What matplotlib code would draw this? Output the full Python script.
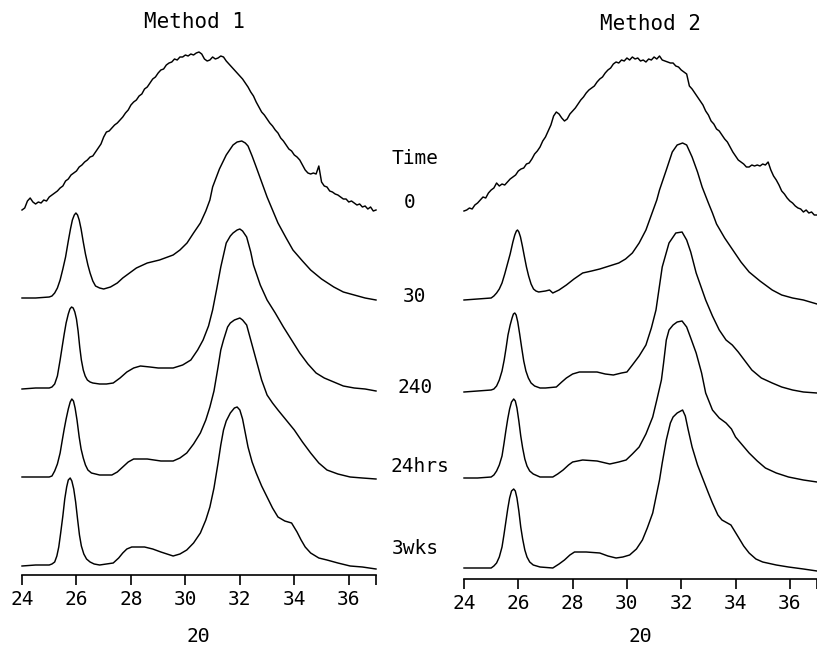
import numpy as np
import matplotlib
matplotlib.use("Agg")
import matplotlib.pyplot as plt

# ---------------- data (intensity above each trace's own baseline, arbitrary units) ----
two_theta_fine = np.round(np.arange(240, 371) / 10.0, 1)  # 24.0 ... 37.0 step 0.1

m1_t0 = [0, 2, 9, 12, 8, 6, 8, 7, 10, 9,
         13, 15, 17, 19, 22, 24, 29, 31, 35, 37,
         39, 43, 45, 48, 50, 53, 54, 58, 62, 66,
         73, 78, 79, 82, 85, 87, 90, 93, 97, 100,
         105, 108, 110, 114, 116, 121, 123, 127, 131, 133,
         137, 140, 141, 145, 147, 148, 151, 150, 153, 153,
         155, 154, 156, 155, 157, 158, 156, 151, 149, 150,
         153, 151, 152, 154, 153, 149, 146, 143, 140, 137,
         134, 131, 127, 123, 118, 114, 108, 103, 98, 95,
         91, 87, 84, 80, 77, 72, 69, 65, 61, 59,
         55, 53, 50, 45, 40, 37, 36, 37, 36, 44,
         28, 24, 23, 19, 18, 16, 15, 13, 11, 11,
         8, 9, 7, 5, 6, 3, 4, 1, 3, -1, 0]

m2_t0 = [-1, 0, 2, 1, 5, 7, 10, 13, 12, 17,
         20, 22, 27, 24, 26, 25, 28, 31, 33, 35,
         39, 41, 42, 46, 47, 51, 56, 59, 63, 69,
         73, 79, 85, 94, 98, 96, 92, 89, 91, 96,
         99, 102, 106, 110, 113, 117, 120, 122, 124, 128,
         131, 133, 137, 140, 142, 146, 148, 147, 150, 149,
         152, 150, 153, 151, 152, 149, 150, 148, 151, 150,
         153, 151, 154, 150, 149, 148, 147, 147, 144, 143,
         140, 138, 136, 124, 121, 117, 113, 109, 105, 99,
         95, 89, 86, 81, 79, 75, 71, 68, 63, 58,
         54, 50, 48, 46, 43, 43, 45, 44, 45, 44,
         46, 45, 48, 40, 34, 30, 25, 19, 16, 12,
         9, 7, 4, 2, 1, -2, 0, -3, -2, -5, -5]

m1_t30_x = [24.0, 24.5, 25.0, 25.1, 25.2, 25.3, 25.4, 25.5, 25.6, 25.7, 25.78, 25.85,
            25.92, 25.98, 26.04, 26.1, 26.17, 26.25, 26.33, 26.42, 26.5, 26.6, 26.7, 26.85,
            27.0, 27.25, 27.5, 27.7, 27.95, 28.2, 28.6, 29.05, 29.55, 29.8, 30.06, 30.3,
            30.55, 30.75, 30.9, 31.0, 31.25, 31.5, 31.65, 31.75, 31.9, 32.07, 32.2, 32.3,
            32.45, 32.6, 32.8, 33.0, 33.2, 33.4, 33.7, 33.95, 34.3, 34.6, 35.0, 35.45,
            35.8, 36.2, 36.6, 37.0]
m1_t30_y = [1, 1, 2, 3, 6, 11, 19, 30, 42, 58, 70, 79,
            84, 86, 84, 79, 70, 57, 45, 34, 26, 18, 13, 11,
            10, 12, 16, 21, 26, 31, 36, 39, 44, 49, 56, 66,
            76, 88, 99, 112, 130, 144, 150, 154, 157, 158, 156, 153,
            143, 132, 117, 102, 89, 76, 61, 49, 38, 29, 20, 12,
            7, 4, 1, -1]

m1_t240_x = [24.0, 24.5, 25.0, 25.1, 25.2, 25.3, 25.4, 25.48, 25.55, 25.62, 25.7, 25.76,
             25.82, 25.88, 25.94, 26.0, 26.06, 26.12, 26.18, 26.25, 26.32, 26.4, 26.5, 26.6,
             26.85, 27.1, 27.35, 27.6, 27.85, 28.1, 28.35, 28.7, 29.0, 29.55, 29.9, 30.2,
             30.45, 30.65, 30.85, 31.0, 31.15, 31.3, 31.5, 31.65, 31.75, 31.9, 32.0, 32.1,
             32.25, 32.4, 32.5, 32.75, 33.0, 33.3, 33.6, 33.9, 34.2, 34.5, 34.8, 35.1,
             35.45, 35.8, 36.2, 36.6, 37.0]
m1_t240_y = [0, 1, 1, 2, 5, 13, 29, 43, 55, 66, 75, 80,
             82, 81, 77, 70, 58, 42, 29, 19, 13, 9, 7, 6,
             5, 5, 6, 11, 17, 21, 23, 22, 21, 21, 24, 29,
             39, 49, 63, 79, 100, 122, 146, 153, 156, 159, 160, 158,
             152, 137, 124, 104, 89, 76, 62, 49, 36, 25, 16, 11,
             7, 3, 1, 0, -2]

m1_t24h_x = [24.0, 24.5, 25.0, 25.1, 25.2, 25.3, 25.4, 25.48, 25.55, 25.62, 25.7, 25.77,
             25.83, 25.89, 25.95, 26.02, 26.1, 26.17, 26.25, 26.33, 26.42, 26.55, 26.85, 27.3,
             27.5, 27.7, 27.9, 28.1, 28.6, 29.1, 29.55, 29.8, 30.05, 30.3, 30.55, 30.75,
             30.9, 31.05, 31.2, 31.3, 31.4, 31.55, 31.65, 31.8, 32.0, 32.1, 32.25, 32.4,
             32.6, 32.8, 33.0, 33.2, 33.4, 33.7, 34.0, 34.3, 34.6, 34.9, 35.2, 35.6,
             36.05, 36.5, 37.0]
m1_t24h_y = [0, 0, 0, 1, 6, 13, 24, 37, 48, 58, 68, 75,
             78, 76, 69, 57, 40, 28, 19, 12, 7, 4, 2, 2,
             5, 10, 15, 18, 18, 16, 16, 19, 24, 33, 44, 57,
             70, 86, 110, 127, 137, 150, 154, 157, 159, 157, 152, 137,
             117, 97, 82, 74, 67, 57, 47, 35, 24, 14, 7, 3,
             0, -1, -2]

m1_t3w_x = [24.0, 24.5, 25.0, 25.1, 25.2, 25.28, 25.35, 25.42, 25.5, 25.57, 25.64, 25.7,
            25.77, 25.83, 25.9, 25.97, 26.04, 26.11, 26.18, 26.27, 26.37, 26.5, 26.65, 26.85,
            27.1, 27.35, 27.55, 27.7, 27.85, 28.03, 28.5, 28.8, 29.1, 29.55, 29.8, 30.05,
            30.3, 30.55, 30.75, 30.9, 31.05, 31.2, 31.3, 31.4, 31.5, 31.65, 31.8, 31.9,
            32.0, 32.1, 32.3, 32.45, 32.6, 32.8, 33.0, 33.2, 33.4, 33.65, 33.9, 34.1,
            34.25, 34.4, 34.6, 34.9, 35.2, 35.6, 36.05, 36.5, 37.0]
m1_t3w_y = [0, 1, 1, 2, 4, 10, 19, 33, 50, 67, 79, 86,
            88, 85, 77, 64, 47, 31, 20, 12, 7, 4, 2, 1,
            2, 3, 8, 13, 17, 19, 19, 17, 14, 10, 12, 16,
            23, 33, 46, 59, 78, 103, 121, 136, 145, 153, 158, 159,
            156, 147, 119, 104, 93, 80, 69, 58, 49, 45, 43, 34,
            26, 19, 13, 8, 6, 3, 0, -1, -3]

m2_t30_x = [24.0, 24.5, 25.0, 25.1, 25.2, 25.3, 25.4, 25.5, 25.6, 25.7, 25.8, 25.87,
            25.93, 25.97, 26.02, 26.08, 26.15, 26.22, 26.3, 26.38, 26.47, 26.56, 26.65, 26.75,
            27.0, 27.15, 27.27, 27.5, 27.77, 28.05, 28.37, 28.7, 29.0, 29.35, 29.7, 29.95,
            30.2, 30.45, 30.7, 30.9, 31.1, 31.2, 31.45, 31.67, 31.85, 32.05, 32.2, 32.4,
            32.6, 32.77, 33.0, 33.15, 33.3, 33.6, 33.9, 34.2, 34.5, 34.9, 35.35, 35.7,
            36.1, 36.5, 37.0]
m2_t30_y = [0, 1, 2, 4, 7, 11, 17, 26, 36, 46, 58, 65,
            69, 70, 68, 63, 54, 44, 33, 24, 16, 11, 9, 8,
            9, 10, 7, 10, 15, 21, 27, 29, 31, 34, 37, 41,
            47, 57, 70, 85, 100, 110, 130, 148, 155, 157, 155, 143,
            128, 113, 97, 87, 76, 62, 50, 38, 28, 19, 10, 5,
            2, 0, -4]

m2_t240_x = [24.0, 24.5, 25.0, 25.1, 25.2, 25.3, 25.4, 25.48, 25.55, 25.62, 25.7, 25.77,
             25.82, 25.87, 25.92, 25.98, 26.05, 26.12, 26.2, 26.28, 26.37, 26.47, 26.6, 26.8,
             27.0, 27.4, 27.6, 27.77, 28.0, 28.25, 28.6, 28.9, 29.2, 29.5, 29.8, 30.0,
             30.2, 30.45, 30.7, 30.9, 31.07, 31.3, 31.55, 31.8, 32.03, 32.2, 32.35, 32.55,
             32.9, 33.15, 33.4, 33.65, 33.88, 34.1, 34.35, 34.6, 34.95, 35.35, 35.7, 36.1,
             36.5, 37.0]
m2_t240_y = [0, 1, 2, 3, 6, 12, 21, 32, 44, 57, 67, 74,
             78, 79, 77, 70, 58, 45, 31, 21, 14, 9, 6, 4,
             4, 5, 10, 14, 18, 20, 20, 20, 18, 17, 19, 20,
             27, 36, 47, 64, 82, 125, 149, 159, 160, 152, 140, 119,
             92, 76, 62, 52, 47, 40, 31, 22, 14, 9, 5, 2,
             0, -1]

m2_t24h_x = [24.0, 24.5, 25.0, 25.1, 25.2, 25.3, 25.4, 25.47, 25.54, 25.61, 25.68, 25.75,
             25.83, 25.89, 25.95, 26.02, 26.09, 26.16, 26.24, 26.32, 26.42, 26.55, 26.8, 27.27,
             27.45, 27.65, 27.85, 28.0, 28.37, 28.9, 29.37, 29.7, 29.97, 30.2, 30.45, 30.7,
             30.95, 31.1, 31.27, 31.35, 31.45, 31.55, 31.7, 31.85, 32.03, 32.2, 32.35, 32.55,
             32.75, 32.9, 33.15, 33.4, 33.65, 33.85, 34.0, 34.25, 34.5, 34.8, 35.1, 35.5,
             35.95, 36.5, 37.0]
m2_t24h_y = [0, 0, 1, 3, 7, 13, 22, 34, 47, 59, 69, 76,
             79, 77, 70, 57, 42, 30, 19, 12, 7, 4, 1, 1,
             4, 8, 13, 16, 18, 17, 14, 16, 18, 24, 31, 44,
             61, 78, 98, 115, 138, 148, 153, 156, 157, 151, 140, 125,
             105, 85, 68, 60, 55, 49, 41, 33, 25, 17, 10, 5,
             1, -2, -4]

m2_t3w_x = [24.0, 24.5, 25.0, 25.1, 25.2, 25.3, 25.4, 25.47, 25.54, 25.61, 25.68, 25.75,
            25.83, 25.89, 25.95, 26.02, 26.09, 26.16, 26.24, 26.32, 26.42, 26.55, 26.8, 27.27,
            27.5, 27.7, 27.9, 28.07, 28.5, 29.0, 29.3, 29.6, 29.85, 30.1, 30.35, 30.57,
            30.75, 30.95, 31.2, 31.3, 31.45, 31.6, 31.7, 31.85, 32.05, 32.15, 32.25, 32.4,
            32.6, 32.77, 33.0, 33.15, 33.35, 33.5, 33.83, 34.1, 34.3, 34.5, 34.75, 35.0,
            35.5, 35.95, 36.5, 37.0]
m2_t3w_y = [0, 0, 0, 2, 5, 11, 21, 33, 46, 59, 70, 77,
            79, 77, 70, 57, 41, 29, 18, 11, 6, 3, 1, 0,
            4, 8, 13, 16, 16, 15, 12, 10, 11, 13, 19, 28,
            40, 55, 88, 105, 128, 145, 151, 155, 158, 152, 139, 121,
            103, 91, 75, 65, 53, 48, 43, 31, 22, 15, 9, 6,
            3, 1, -1, -3]

time_labels = ["0", "30", "240", "24hrs", "3wks"]
titles = ["Method 1", "Method 2"]
x_ticks = [24, 26, 28, 30, 32, 34, 36]

method1 = [(two_theta_fine, m1_t0), (m1_t30_x, m1_t30_y), (m1_t240_x, m1_t240_y),
           (m1_t24h_x, m1_t24h_y), (m1_t3w_x, m1_t3w_y)]
method2 = [(two_theta_fine, m2_t0), (m2_t30_x, m2_t30_y), (m2_t240_x, m2_t240_y),
           (m2_t24h_x, m2_t24h_y), (m2_t3w_x, m2_t3w_y)]

# ---------------- layout / style ----------------
W, H = 817, 649
FONT = "DejaVu Sans Mono"
fig = plt.figure(figsize=(W / 100, H / 100), dpi=100)
fig.patch.set_facecolor("white")

# stacking offsets (in data units == pixels) for each trace, top to bottom
offsets_left = [365, 276, 186, 98, 9]
offsets_right = [369, 279, 187, 101, 11]

panels = [
    # (left_px, right_px, spine_y_px, top_px, traces, offsets)
    (22, 376, 575, 40, method1, offsets_left),
    (464, 817, 579, 40, method2, offsets_right),
]

for (lpx, rpx, spy, tpx, traces, offs) in panels:
    ax = fig.add_axes([lpx / W, (H - spy) / H, (rpx - lpx) / W, (spy - tpx) / H])
    ax.set_xlim(24, 24 + 13 * (rpx - lpx) / 354)
    ax.set_ylim(0, spy - tpx)
    for (xs, ys), off in zip(traces, offs):
        ax.plot(xs, np.asarray(ys) + off, color="black", lw=1.05,
                solid_joinstyle="round", clip_on=False)
    for s in ("top", "right", "left"):
        ax.spines[s].set_visible(False)
    ax.spines["bottom"].set_linewidth(1.2)
    ax.set_yticks([])
    ax.set_xticks(x_ticks)
    ax.set_xticks([37], minor=True)
    ax.tick_params(axis="x", which="both", direction="out", length=7, width=1.2,
                   labelsize=14, pad=4)
    for lab in ax.get_xticklabels():
        lab.set_family(FONT)
    ax.set_facecolor("none")
    ax.patch.set_alpha(0)

def ftext(xpx, ypx, s, size=14):
    fig.text(xpx / W, 1 - ypx / H, s, ha="center", va="center", fontsize=size,
             family=FONT, color="black")

ftext(195, 22, titles[0], 15)
ftext(650, 24, titles[1], 15)
ftext(415, 158, "Time")
label_pos = [(410, 202), (415, 297), (415, 387), (420, 467), (415, 548)]
for (lx, ly), s in zip(label_pos, time_labels):
    ftext(lx, ly, s)
ftext(198, 636, "2Θ")
ftext(640, 637, "2Θ")

fig.savefig("out.png", dpi=100, facecolor="white")
